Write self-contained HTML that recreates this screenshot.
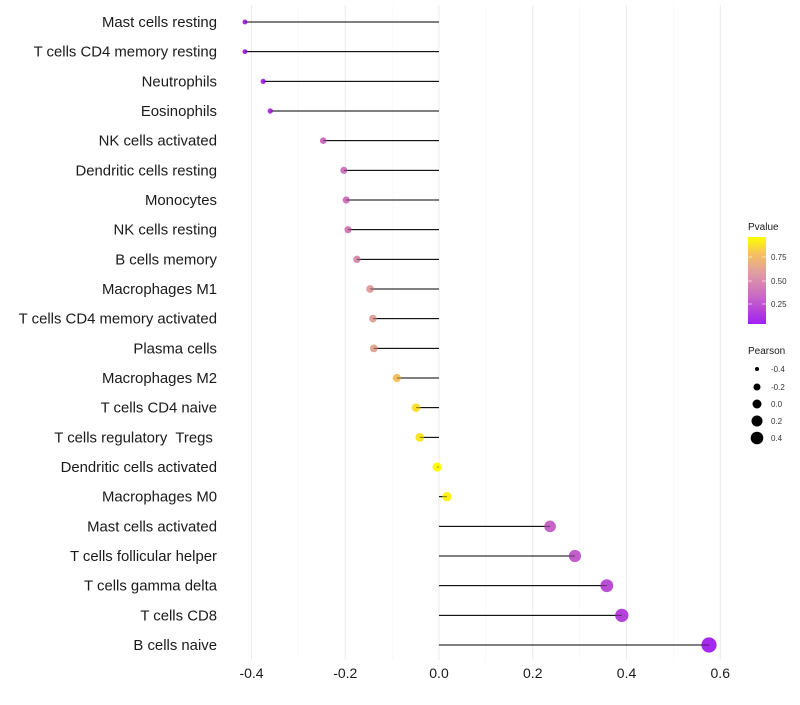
<!DOCTYPE html>
<html><head><meta charset="utf-8"><style>
body{margin:0;background:#fff;font-family:"Liberation Sans",sans-serif;}
svg text{font-family:"Liberation Sans",sans-serif;white-space:pre;}
</style></head><body>
<svg id="chart" width="800" height="700" viewBox="0 0 800 700">
<defs><linearGradient id="pg" x1="0" y1="1" x2="0" y2="0">
<stop offset="0" stop-color="#a020f0"/><stop offset="0.35" stop-color="#cc70c0"/><stop offset="0.6" stop-color="#e0a0a0"/><stop offset="0.8" stop-color="#f5c060"/><stop offset="1" stop-color="#ffff00"/></linearGradient></defs>
<g id="grid"></g>
<g id="marks"></g>
<g id="ylabels"></g>
<g id="xlabels"></g>
<g>
<text x="748" y="230" font-size="10" fill="#1a1a1a">Pvalue</text>
<rect x="748" y="237" width="18" height="87" fill="url(#pg)"/>
<line x1="748" y1="257" x2="752" y2="257" stroke="#fff" stroke-opacity="0.6"/><line x1="762" y1="257" x2="766" y2="257" stroke="#fff" stroke-opacity="0.6"/>
<line x1="748" y1="281" x2="752" y2="281" stroke="#fff" stroke-opacity="0.6"/><line x1="762" y1="281" x2="766" y2="281" stroke="#fff" stroke-opacity="0.6"/>
<line x1="748" y1="304" x2="752" y2="304" stroke="#fff" stroke-opacity="0.6"/><line x1="762" y1="304" x2="766" y2="304" stroke="#fff" stroke-opacity="0.6"/>
<text x="771" y="260" font-size="8" fill="#333">0.75</text>
<text x="771" y="284" font-size="8" fill="#333">0.50</text>
<text x="771" y="307" font-size="8" fill="#333">0.25</text>
</g>
<g>
<text x="748" y="354" font-size="10" fill="#1a1a1a">Pearson</text>
<circle cx="757" cy="369" r="2" fill="#000"/><text x="771" y="372" font-size="8" fill="#333">-0.4</text>
<circle cx="757" cy="387" r="3.5" fill="#000"/><text x="771" y="390" font-size="8" fill="#333">-0.2</text>
<circle cx="757" cy="404" r="4.5" fill="#000"/><text x="771" y="407" font-size="8" fill="#333">0.0</text>
<circle cx="757" cy="421" r="5.5" fill="#000"/><text x="771" y="424" font-size="8" fill="#333">0.2</text>
<circle cx="757" cy="438" r="6.3" fill="#000"/><text x="771" y="441" font-size="8" fill="#333">0.4</text>
</g>
</svg>
<script>
const categories=["Mast cells resting","T cells CD4 memory resting","Neutrophils","Eosinophils","NK cells activated","Dendritic cells resting","Monocytes","NK cells resting","B cells memory","Macrophages M1","T cells CD4 memory activated","Plasma cells","Macrophages M2","T cells CD4 naive","T cells regulatory  Tregs ","Dendritic cells activated","Macrophages M0","Mast cells activated","T cells follicular helper","T cells gamma delta","T cells CD8","B cells naive"];
const pearson=[-0.414,-0.414,-0.375,-0.36,-0.247,-0.203,-0.198,-0.194,-0.175,-0.147,-0.141,-0.139,-0.09,-0.049,-0.041,-0.004,0.017,0.237,0.29,0.358,0.39,0.576];
const pvalue=[0.05,0.05,0.08,0.12,0.35,0.38,0.38,0.42,0.5,0.6,0.62,0.63,0.8,0.9,0.92,0.99,0.96,0.3,0.27,0.2,0.15,0.04];
const xticks=[-0.4,-0.2,0,0.2,0.4,0.6];
const xtickLabels=["-0.4","-0.2","0.0","0.2","0.4","0.6"];
const NS="http://www.w3.org/2000/svg";
const x=v=>439+v*468.75;
const y=i=>22+i*29.667;
const r=v=>Math.max(2,4.6+v*5.2);
function col(p){
 const st=[[0,[160,32,240]],[0.35,[204,112,192]],[0.6,[224,160,160]],[0.8,[245,192,96]],[1,[255,255,0]]];
 for(let k=1;k<st.length;k++){if(p<=st[k][0]){const a=st[k-1],b=st[k];const t=(p-a[0])/(b[0]-a[0]);
 return "rgb("+a[1].map((c,j)=>Math.round(c+(b[1][j]-c)*t)).join(",")+")";}}
 return "rgb(255,255,0)";}
function mk(tag,at,parent){const e=document.createElementNS(NS,tag);for(const k in at)e.setAttribute(k,at[k]);document.getElementById(parent).appendChild(e);return e;}
for(let v=-0.4;v<=0.61;v+=0.1){const major=Math.abs(Math.round(v*10))%2===0;
 const l=mk("line",{x1:x(v),x2:x(v),y1:5,y2:660,stroke:major?"#ebebeb":"#f5f5f5","stroke-width":major?1:0.6},"grid");
 
 }
xticks.forEach((v,i)=>{const t=mk("text",{x:x(v),y:678,"font-size":14,"text-anchor":"middle",fill:"#1a1a1a"},"xlabels");t.textContent=xtickLabels[i];
 
 });
categories.forEach((c,i)=>{
 const t=mk("text",{x:217,y:y(i)+5,"font-size":14.9,"text-anchor":"end",fill:"#1a1a1a"},"ylabels");t.textContent=c;
 
 
 const s=mk("line",{x1:x(0),x2:x(pearson[i]),y1:y(i),y2:y(i),stroke:"#000","stroke-width":1},"marks");
 
 
 const p=mk("circle",{cx:x(pearson[i]),cy:y(i),r:r(pearson[i]),fill:col(pvalue[i])},"marks");
 
 
 const s2=mk("line",{x1:x(0),x2:x(pearson[i]),y1:y(i),y2:y(i),stroke:"#000","stroke-width":1,"stroke-opacity":0.5},"marks");
 
 
});
</script>
</body></html>
